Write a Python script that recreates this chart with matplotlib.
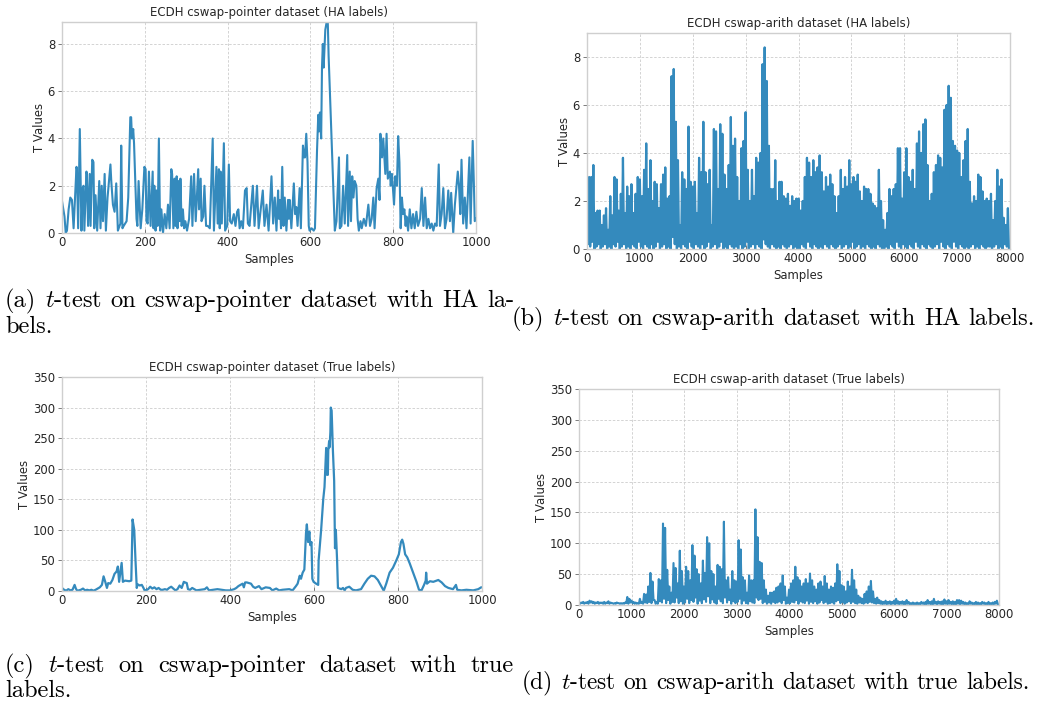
import numpy as np
import matplotlib
matplotlib.use("Agg")
import matplotlib.pyplot as plt

plt.rcParams['mathtext.fontset'] = 'cm'

# (a) cswap-pointer, HA labels: (sample, t value)
a_points = [
    (0, 1.35), (6, 0.7), (9, 0.0), (12, 0.1), (16, 1.0), (20, 1.5), (24, 1.4), (28, 0.2),
    (35, 2.8), (36, 2.7), (39, 0.2), (43, 4.4), (47, 0.1), (50, 1.9), (52, 2.0), (54, 0.1),
    (59, 2.6), (60, 2.5), (63, 0.3), (67, 2.5), (69, 0.3), (73, 3.1), (76, 3.0), (78, 0.2),
    (81, 1.6), (85, 0.1), (90, 2.2), (93, 0.2), (96, 2.0), (99, 0.5), (103, 2.5), (106, 0.1),
    (110, 1.5), (117, 2.9), (119, 2.2), (123, 1.2), (127, 0.9), (131, 2.1), (135, 0.1),
    (141, 0.4), (143, 3.7), (146, 0.2), (149, 0.3), (156, 0.5), (160, 1.5), (165, 4.9),
    (167, 4.9), (169, 4.0), (172, 4.4), (174, 3.8), (180, 0.6), (182, 0.3), (185, 2.2),
    (190, 0.2), (194, 1.0), (199, 2.8), (202, 2.7), (204, 0.5), (207, 0.4), (210, 2.6),
    (214, 0.3), (219, 2.6), (221, 0.2), (223, 2.0), (226, 0.1), (228, 1.8), (231, 0.3),
    (234, 4.0), (237, 0.1), (240, 1.0), (244, 0.0), (248, 0.8), (252, 0.2), (256, 1.2),
    (260, 0.2), (264, 2.7), (266, 2.5), (269, 0.2), (272, 2.3), (274, 0.3), (277, 2.4),
    (279, 0.2), (282, 2.2), (285, 0.5), (286, 2.3), (289, 0.3), (292, 1.0), (295, 0.2),
    (298, 0.5), (302, 0.1), (307, 0.6), (312, 2.4), (315, 0.3), (319, 2.5), (323, 0.5),
    (329, 2.7), (331, 1.0), (335, 2.3), (337, 0.5), (339, 0.6), (341, 0.7), (344, 2.0),
    (348, 0.3), (352, 0.3), (357, 0.2), (364, 4.0), (367, 0.1), (373, 2.8), (376, 0.4),
    (379, 2.7), (381, 0.2), (383, 2.6), (386, 0.4), (391, 3.8), (394, 0.1), (399, 0.3),
    (403, 2.9), (406, 0.5), (410, 0.4), (415, 0.8), (419, 0.3), (423, 0.9), (426, 1.0),
    (429, 0.2), (433, 0.5), (437, 0.2), (442, 1.8), (446, 1.9), (449, 0.4), (453, 0.3),
    (461, 2.0), (465, 0.3), (471, 2.0), (475, 0.2), (485, 1.8), (489, 0.3), (494, 1.2),
    (499, 0.1), (506, 2.4), (510, 0.4), (514, 1.5), (518, 0.1), (522, 1.8), (524, 0.6),
    (526, 1.4), (529, 0.2), (532, 2.8), (535, 0.3), (538, 1.5), (542, 0.1), (546, 1.4),
    (548, 0.6), (550, 1.4), (554, 0.2), (560, 2.1), (563, 0.8), (566, 1.1), (569, 0.3),
    (574, 1.9), (577, 0.2), (582, 3.7), (585, 3.2), (587, 3.2), (590, 4.2), (593, 3.0),
    (596, 0.3), (598, 0.1), (603, 0.2), (608, 0.1), (611, 0.2), (616, 3.5), (619, 5.0),
    (621, 4.3), (623, 5.1), (626, 4.0), (628, 7.0), (630, 8.0), (632, 7.0), (636, 8.6),
    (639, 8.9), (642, 8.93), (644, 7.5), (647, 6.0), (651, 4.0), (653, 3.0), (659, 0.1),
    (663, 0.5), (669, 3.2), (671, 0.2), (675, 0.3), (679, 2.0), (683, 0.4), (689, 3.3),
    (691, 0.3), (695, 2.6), (698, 0.5), (701, 2.4), (704, 1.5), (707, 2.2), (711, 2.0),
    (714, 0.6), (717, 0.1), (721, 0.5), (724, 0.2), (729, 0.6), (734, 0.3), (740, 1.2),
    (744, 0.3), (748, 0.6), (752, 1.5), (755, 0.2), (760, 1.9), (764, 2.3), (767, 1.4),
    (769, 4.2), (773, 3.2), (776, 4.0), (781, 2.5), (784, 4.2), (787, 2.3), (792, 2.6),
    (794, 2.0), (797, 2.5), (799, 2.0), (802, 1.2), (805, 2.4), (809, 2.0), (812, 4.1),
    (815, 3.0), (818, 0.2), (821, 1.5), (824, 0.8), (827, 1.0), (830, 0.3), (832, 0.7),
    (836, 0.1), (840, 1.0), (844, 0.2), (848, 0.8), (852, 0.2), (856, 0.9), (860, 0.3),
    (865, 0.6), (869, 1.9), (873, 0.3), (877, 1.5), (881, 0.2), (885, 0.6), (889, 0.2),
    (893, 0.4), (897, 0.1), (901, 0.4), (905, 0.3), (910, 2.9), (913, 0.3), (917, 0.8),
    (921, 1.9), (925, 0.2), (929, 0.6), (933, 1.8), (937, 0.5), (940, 1.7), (945, 0.0),
    (949, 1.2), (956, 2.6), (959, 2.0), (962, 0.8), (965, 3.1), (969, 0.4), (973, 1.5),
    (977, 0.2), (984, 3.2), (987, 0.4), (992, 3.9), (995, 2.0), (997, 0.5), (1000, 0.6),
]

# (c) cswap-pointer, true labels
c_points = [
    (0, 5), (5, 2), (10, 0.5), (15, 3), (20, 1), (25, 2), (30, 10), (33, 4), (36, 0.5),
    (40, 1), (45, 2), (50, 4), (55, 1), (60, 2), (65, 1), (70, 2), (75, 0.5), (80, 2),
    (85, 4), (90, 6), (95, 10), (99, 24), (103, 15), (107, 5), (110, 13), (115, 12),
    (120, 18), (125, 28), (130, 32), (133, 40), (136, 15), (139, 30), (142, 46), (145, 15),
    (150, 17), (160, 16), (165, 17), (168, 117), (172, 100), (175, 50), (178, 5), (180, 11),
    (185, 9), (190, 10), (194, 5), (197, 0.5), (200, 1), (205, 3), (210, 7), (215, 4),
    (220, 6), (225, 3), (230, 5), (235, 2), (240, 2), (245, 3), (250, 2), (255, 5),
    (260, 7), (265, 4), (270, 1), (275, 3), (280, 9), (285, 5), (290, 15), (293, 14),
    (297, 13), (300, 3), (305, 2), (310, 5), (315, 3), (320, 1), (330, 2), (340, 3),
    (345, 6), (350, 1), (360, 2), (370, 3), (380, 2), (390, 1), (400, 1), (410, 3),
    (415, 5), (420, 8), (425, 10), (430, 12), (433, 6), (436, 14), (440, 14), (445, 13),
    (450, 12), (455, 7), (460, 5), (469, 8), (475, 3), (485, 6), (495, 5), (501, 1),
    (510, 4), (517, 1), (525, 2), (541, 3), (549, 1), (557, 8), (561, 12), (566, 25),
    (569, 20), (573, 30), (577, 35), (581, 95), (583, 109), (586, 80), (589, 97), (591, 75),
    (594, 80), (596, 20), (599, 15), (605, 12), (610, 10), (611, 50), (614, 75), (617, 100),
    (622, 150), (625, 170), (629, 234), (631, 190), (633, 190), (634, 230), (636, 245),
    (637, 235), (639, 260), (640, 300), (642, 295), (645, 230), (648, 180), (650, 70),
    (652, 100), (655, 50), (657, 5), (665, 3), (669, 5), (673, 1), (676, 5), (684, 7),
    (692, 2), (700, 1), (712, 3), (720, 12), (728, 20), (736, 25), (744, 24), (752, 18),
    (760, 8), (766, 0.5), (772, 12), (780, 30), (788, 38), (796, 50), (802, 60), (807, 80),
    (810, 84), (813, 77), (817, 60), (822, 55), (828, 45), (836, 30), (844, 15), (850, 2),
    (856, 1), (862, 10), (866, 17), (867, 30), (869, 12), (876, 16), (884, 15), (896, 18),
    (904, 14), (912, 8), (920, 5), (931, 3), (938, 10), (941, 2), (951, 1), (963, 2),
    (979, 1), (991, 3), (998, 6), (1000, 6),
]

# (b) cswap-arith, HA labels: local highs / lows every 40 samples
b_peaks = [
    2.3, 3.0, 3.0, 3.5, 1.5, 1.6, 1.6, 1.0, 1.4, 1.7,
    0.8, 2.2, 1.4, 3.0, 2.9, 1.6, 2.3, 3.8, 1.5, 2.6,
    2.2, 2.7, 1.5, 2.3, 3.0, 2.9, 2.2, 3.3, 4.4, 2.5,
    3.7, 2.0, 2.8, 2.7, 1.7, 2.7, 3.1, 3.4, 2.1, 2.2,
    7.2, 7.5, 5.3, 3.7, 1.0, 3.2, 2.9, 2.5, 5.1, 2.8,
    2.6, 2.8, 1.5, 3.8, 3.2, 5.3, 3.2, 2.7, 3.3, 1.0,
    5.0, 4.9, 2.5, 5.2, 4.8, 3.1, 2.5, 3.5, 5.5, 4.3,
    4.6, 3.0, 2.0, 4.2, 4.5, 5.7, 3.3, 2.0, 3.3, 2.2,
    3.8, 3.6, 4.0, 7.7, 8.4, 7.0, 4.3, 2.5, 2.5, 3.7,
    2.0, 2.8, 2.8, 2.2, 2.1, 2.3, 1.8, 2.2, 2.0, 2.1,
    2.1, 1.6, 2.0, 3.0, 3.8, 3.6, 3.0, 3.7, 3.2, 3.4,
    3.9, 3.2, 2.4, 3.0, 2.6, 3.1, 2.7, 2.2, 1.5, 2.2,
    3.3, 2.5, 3.0, 2.6, 3.7, 2.7, 3.0, 2.8, 3.1, 2.4,
    2.0, 2.6, 2.5, 2.5, 2.3, 1.9, 1.8, 1.7, 3.3, 2.0,
    1.2, 0.8, 1.5, 2.5, 2.2, 2.5, 2.7, 4.2, 4.2, 2.1,
    3.2, 4.2, 3.0, 2.8, 3.3, 2.5, 4.4, 4.9, 4.0, 5.2,
    5.4, 3.5, 2.0, 2.3, 3.2, 3.5, 3.9, 3.8, 3.4, 5.8,
    6.0, 6.8, 6.3, 4.5, 4.3, 4.1, 4.0, 3.0, 3.7, 4.5,
    5.0, 2.8, 1.9, 2.2, 2.0, 3.1, 3.0, 2.4, 2.0, 2.1,
    2.0, 2.3, 1.2, 2.0, 3.3, 2.6, 2.9, 1.3, 1.0, 1.7,
]
b_troughs = [
    0.2, 0.1, 0.3, 0.0, 0.1, 0.2, 0.0, 0.1, 0.2, 0.0,
    0.1, 0.0, 0.2, 0.1, 0.3, 0.0, 0.1, 0.2, 0.0, 0.1,
    0.0, 0.2, 0.1, 0.0, 0.3, 0.1, 0.0, 0.2, 0.1, 0.0,
    0.2, 0.0, 0.1, 0.3, 0.0, 0.1, 0.2, 0.0, 0.1, 0.0,
    0.5, 0.2, 0.0, 0.1, 0.0, 0.2, 0.1, 0.0, 0.3, 0.1,
    0.0, 0.2, 0.1, 0.0, 0.2, 0.0, 0.1, 0.3, 0.0, 0.1,
    0.2, 0.0, 0.1, 0.3, 0.0, 0.1, 0.0, 0.2, 0.1, 0.0,
    0.1, 0.0, 0.2, 0.0, 0.1, 0.3, 0.0, 0.1, 0.2, 0.0,
    0.2, 0.1, 0.0, 0.4, 0.2, 0.1, 0.0, 0.2, 0.1, 0.0,
    0.1, 0.0, 0.2, 0.1, 0.0, 0.1, 0.2, 0.0, 0.1, 0.0,
    0.0, 0.2, 0.1, 0.0, 0.3, 0.1, 0.0, 0.2, 0.1, 0.0,
    0.1, 0.0, 0.2, 0.1, 0.0, 0.2, 0.1, 0.0, 0.1, 0.2,
    0.0, 0.1, 0.2, 0.0, 0.1, 0.3, 0.0, 0.1, 0.2, 0.0,
    0.1, 0.0, 0.2, 0.1, 0.0, 0.1, 0.0, 0.2, 0.1, 0.0,
    0.0, 0.1, 0.0, 0.2, 0.1, 0.0, 0.3, 0.1, 0.0, 0.2,
    0.1, 0.0, 0.2, 0.1, 0.0, 0.3, 0.1, 0.0, 0.2, 0.1,
    0.0, 0.2, 0.1, 0.0, 0.1, 0.2, 0.0, 0.3, 0.1, 0.0,
    0.2, 0.1, 0.0, 0.3, 0.1, 0.0, 0.2, 0.1, 0.0, 0.1,
    0.0, 0.1, 0.2, 0.0, 0.1, 0.0, 0.2, 0.1, 0.0, 0.1,
    0.1, 0.0, 0.1, 0.2, 0.0, 0.1, 0.0, 0.2, 0.1, 0.0,
]

# (d) cswap-arith, true labels
d_peaks = [
    3, 4, 5, 4, 5, 7, 6, 5, 4, 5,
    4, 4, 5, 4, 6, 4, 3, 3, 4, 3,
    3, 3, 4, 13, 10, 7, 5, 4, 3, 10,
    5, 18, 17, 30, 52, 38, 8, 5, 42, 40,
    132, 125, 57, 30, 20, 68, 60, 35, 88, 55,
    30, 62, 55, 40, 97, 80, 58, 50, 35, 72,
    52, 110, 100, 55, 50, 30, 65, 62, 58, 135,
    40, 45, 25, 55, 40, 38, 105, 90, 45, 40,
    20, 48, 40, 40, 155, 110, 70, 68, 40, 25,
    15, 20, 20, 22, 28, 30, 35, 48, 30, 12,
    25, 35, 40, 62, 45, 40, 30, 35, 42, 35,
    51, 40, 30, 25, 35, 38, 30, 47, 35, 25,
    30, 28, 35, 66, 55, 32, 30, 22, 38, 30,
    57, 40, 25, 15, 12, 10, 18, 22, 30, 39,
    22, 10, 12, 8, 6, 5, 7, 5, 6, 5,
    7, 10, 6, 5, 6, 5, 8, 5, 3, 4,
    3, 4, 3, 5, 4, 5, 8, 5, 6, 10,
    5, 6, 5, 6, 9, 6, 8, 5, 6, 5,
    8, 8, 7, 5, 4, 3, 6, 4, 3, 5,
    4, 3, 5, 4, 3, 5, 3, 4, 5, 7,
]
d_troughs = [
    2, 3, 2, 3, 2, 4, 3, 2, 3, 2,
    3, 2, 2, 3, 2, 3, 2, 2, 3, 2,
    2, 2, 3, 2, 4, 3, 2, 2, 2, 3,
    2, 4, 3, 5, 3, 8, 2, 2, 6, 4,
    10, 3, 8, 2, 5, 4, 12, 3, 6, 2,
    4, 10, 3, 8, 5, 12, 2, 7, 3, 9,
    5, 14, 3, 9, 4, 2, 10, 6, 3, 12,
    4, 8, 2, 6, 3, 5, 10, 2, 7, 3,
    2, 6, 4, 3, 12, 8, 10, 3, 5, 2,
    4, 2, 5, 3, 4, 6, 3, 8, 2, 3,
    3, 5, 4, 8, 2, 6, 4, 3, 7, 2,
    5, 3, 6, 2, 4, 8, 3, 5, 2, 3,
    4, 2, 6, 8, 3, 5, 2, 4, 6, 3,
    5, 3, 2, 4, 3, 2, 4, 3, 5, 4,
    3, 2, 3, 2, 1, 2, 1, 2, 1, 2,
    1, 2, 1, 2, 1, 1, 2, 1, 1, 1,
    1, 1, 1, 2, 1, 1, 2, 1, 1, 2,
    1, 2, 1, 1, 2, 1, 2, 1, 1, 1,
    2, 1, 2, 1, 1, 1, 2, 1, 1, 1,
    1, 1, 2, 1, 1, 1, 1, 1, 2, 1,
]

captions = {
    'a': ["(a) $t$-test on cswap-pointer dataset with HA la-", "bels."],
    'b': ["(b) $t$-test on cswap-arith dataset with HA labels."],
    'c': ["(c) $t$-test on cswap-pointer dataset with true", "labels."],
    'd': ["(d) $t$-test on cswap-arith dataset with true labels."],
}

W, H = 1040, 709
BLUE = '#348ABD'
fig = plt.figure(figsize=(W / 100, H / 100), dpi=100)


def box(x0, y0, x1, y1):
    return [x0 / W, 1 - y1 / H, (x1 - x0) / W, (y1 - y0) / H]


def setup(ax, title):
    ax.set_title(title, fontsize=8.5, color='#262626', pad=4)
    ax.set_xlabel('Samples', fontsize=8.4, color='#262626', labelpad=3)
    ax.set_ylabel('T Values', fontsize=8.4, color='#262626', labelpad=1)
    ax.grid(True, color='#cccccc', linestyle=(0, (3, 2)), linewidth=0.6)
    ax.set_axisbelow(True)
    for s in ax.spines.values():
        s.set_color('#cfcfcf')
        s.set_linewidth(1.0)
    ax.tick_params(labelsize=8.4, length=3, width=0.6, color='#666666',
                   labelcolor='#262626', pad=2)
    ax.tick_params(axis='x', direction='in')


def interleave(hi, lo, step):
    y = np.column_stack([hi, lo]).ravel()
    x = np.arange(len(y)) * step
    return x, y


# (a)
ax = fig.add_axes(box(62, 22, 476, 233))
xa, ya = zip(*a_points)
ax.plot(xa, ya, color=BLUE, lw=1.5)
ax.set_xlim(0, 1000)
ax.set_ylim(0, max(ya))
ax.set_yticks([0, 2, 4, 6, 8])
setup(ax, 'ECDH cswap-pointer dataset (HA labels)')

# (b)
ax = fig.add_axes(box(587, 33, 1010, 249))
xb, yb = interleave(b_peaks, b_troughs, 20)
ax.plot(xb, yb, color=BLUE, lw=1.6)
ax.set_xlim(0, 8000)
ax.set_ylim(0, 9)
ax.set_yticks([0, 2, 4, 6, 8])
setup(ax, 'ECDH cswap-arith dataset (HA labels)')

# (c)
ax = fig.add_axes(box(62, 377, 482, 591))
xc, yc = zip(*c_points)
ax.plot(xc, yc, color=BLUE, lw=1.6)
ax.set_xlim(0, 1000)
ax.set_ylim(0, 350)
setup(ax, 'ECDH cswap-pointer dataset (True labels)')

# (d)
ax = fig.add_axes(box(579, 389, 999, 605))
xd, yd = interleave(d_peaks, d_troughs, 20)
ax.plot(xd, yd, color=BLUE, lw=1.5)
ax.set_xlim(0, 8000)
ax.set_ylim(0, 350)
setup(ax, 'ECDH cswap-arith dataset (True labels)')


# captions, LaTeX-like: words placed one by one
renderer = fig.canvas.get_renderer()
SPACE = 0.333  # interword space in em


def word_widths(words, size):
    items = [fig.text(0, 0, w, fontsize=size, family='cmr10', va='baseline')
             for w in words]
    widths = [t.get_window_extent(renderer).width for t in items]
    return items, widths


def fit_size(text, width, size=16.0):
    words = text.split(' ')
    items, ws = word_widths(words, size)
    for t in items:
        t.remove()
    natural = sum(ws) + (len(words) - 1) * SPACE * size * 100 / 72
    return size * width / natural


def caption_line(text, x0, base, size, x1=None):
    words = text.split(' ')
    items, widths = word_widths(words, size)
    if x1 is None:
        gap = SPACE * size * 100 / 72
    else:
        gap = (x1 - x0 - sum(widths)) / (len(words) - 1)
    x = x0
    for t, w in zip(items, widths):
        t.set_position((x / W, 1 - base / H))
        x += w + gap


CAP = fit_size(captions['b'][0], 1035 - 512)
CAP_D = fit_size(captions['d'][0], 1030 - 522)
caption_line(captions['a'][0], 5, 307, CAP, x1=514)
caption_line(captions['a'][1], 5, 333, CAP)
caption_line(captions['b'][0], 512, 325, CAP)
caption_line(captions['c'][0], 5, 672, CAP, x1=514)
caption_line(captions['c'][1], 5, 697, CAP)
caption_line(captions['d'][0], 522, 689, CAP_D)

fig.savefig('out.png', dpi=100)
